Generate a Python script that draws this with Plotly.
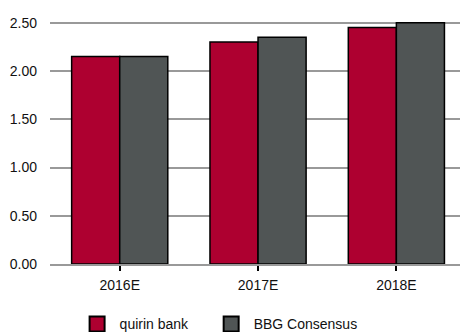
import plotly.graph_objects as go

categories = ["2016E", "2017E", "2018E"]
quirin = [2.15, 2.30, 2.45]
bbg = [2.15, 2.35, 2.50]
series_names = ["quirin bank", "BBG Consensus"]
colors = ["#AE0030", "#505555"]

fig = go.Figure()
for name, vals, col in zip(series_names, [quirin, bbg], colors):
    fig.add_trace(go.Bar(x=categories, y=vals, name=name, showlegend=False,
                         marker=dict(color=col, line=dict(color="#000000", width=1.5))))
pad = "\u00a0" * 4
for i, (name, col) in enumerate(zip(series_names, colors)):
    fig.add_trace(go.Scatter(x=[None], y=[None], mode="markers",
                             name=name + (pad if i == 0 else ""),
                             marker=dict(symbol="square", size=15, color=col,
                                         line=dict(color="#000000", width=2))))

font = dict(family="Liberation Sans, Arial, sans-serif", size=14, color="#111111")
fig.update_layout(
    width=460, height=332,
    margin=dict(l=50, r=0, t=0, b=68, autoexpand=False),
    paper_bgcolor="white", plot_bgcolor="white",
    font=font,
    barmode="group", bargap=0.305, bargroupgap=0,
    xaxis=dict(range=[-0.504, 2.46], showgrid=False, showline=True,
               linecolor="#999999", linewidth=2, ticks="outside", ticklen=5,
               tickcolor="#000000", tickwidth=1.5, ticklabelstandoff=2,
               fixedrange=True),
    yaxis=dict(range=[0, 2.736], dtick=0.5, tickformat=".2f", showgrid=True,
               gridcolor="#999999", gridwidth=2, zeroline=False, showline=False,
               ticks="", ticklabelstandoff=12, fixedrange=True),
    legend=dict(orientation="h", x=0.06, xanchor="left", y=-0.168, yanchor="top",
                itemwidth=35, font=font),
)
fig.write_html("out.html")
